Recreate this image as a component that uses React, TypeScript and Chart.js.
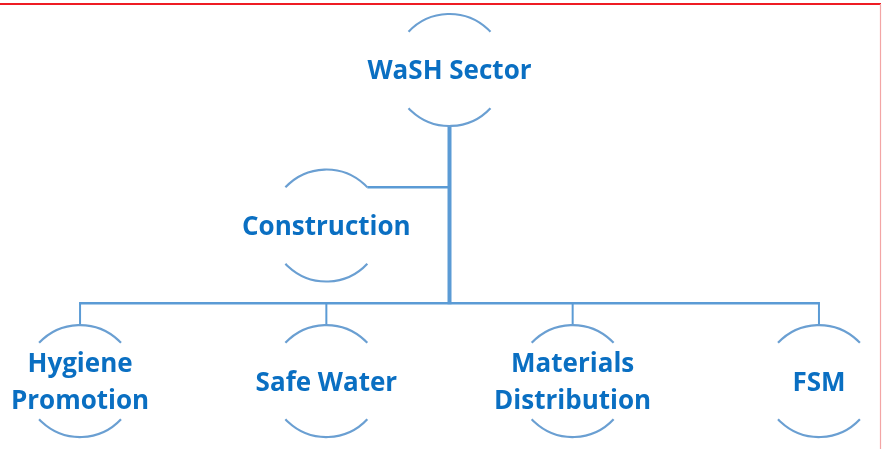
import React, { useEffect, useRef } from "react";
import { Chart, registerables } from "chart.js";

Chart.register(...registerables);

// ---- data ----
const nodeNames: string[][] = [
  ["WaSH Sector"],
  ["Construction"],
  ["Hygiene", "Promotion"],
  ["Safe Water"],
  ["Materials", "Distribution"],
  ["FSM"],
];
const nodeCol: number[] = [1.5, 1, 0, 1, 2, 3];
const nodeRow: number[] = [0, 1, 2, 2, 2, 2];
const nodeParent: number[] = [-1, 0, 0, 0, 0, 0];
const busRow = 1.5;

const TEXT_COLOR = "#0a6fc2";
const LINE_COLOR = "#5b9bd5";
const ARC_COLOR = "#6a9fd2";
const RADIUS = 56;
const HALF_SPAN = (47 * Math.PI) / 180;
const FONT = "bold 26px 'Open Sans'";
const LINE_H = 37;

const orgPlugin = {
  id: "orgChart",
  beforeDraw(chart: any) {
    const ctx = chart.ctx;
    ctx.save();
    ctx.fillStyle = "#ffffff";
    ctx.fillRect(0, 0, chart.width, chart.height);
    // frame lines
    ctx.strokeStyle = "#ee1c24";
    ctx.lineWidth = 2;
    ctx.beginPath();
    ctx.moveTo(0, 4);
    ctx.lineTo(881, 4);
    ctx.stroke();
    ctx.strokeStyle = "#f3a5a5";
    ctx.lineWidth = 1.2;
    ctx.beginPath();
    ctx.moveTo(880.5, 4);
    ctx.lineTo(880.5, chart.height);
    ctx.stroke();
    ctx.restore();
  },
  afterDatasetsDraw(chart: any) {
    const ctx = chart.ctx;
    const xs = chart.scales.x;
    const ys = chart.scales.y;
    const px = nodeCol.map((c) => xs.getPixelForValue(c));
    const py = nodeRow.map((r) => ys.getPixelForValue(r));
    const busY = ys.getPixelForValue(busRow);
    ctx.save();
    ctx.lineCap = "butt";
    const bottomKids: number[] = [];
    nodeParent.forEach((p, i) => {
      if (p < 0) return;
      if (nodeRow[i] > busRow) bottomKids.push(i);
    });
    const root = 0;
    // trunk
    ctx.strokeStyle = LINE_COLOR;
    ctx.lineWidth = 4;
    ctx.beginPath();
    ctx.moveTo(px[root], py[root] + RADIUS);
    ctx.lineTo(px[root], busY + 1);
    ctx.stroke();
    // side branches (nodes above bus)
    ctx.lineWidth = 2.5;
    nodeParent.forEach((p, i) => {
      if (p < 0 || nodeRow[i] > busRow) return;
      const ex = px[i] + RADIUS * Math.sin(HALF_SPAN);
      const ey = py[i] - RADIUS * Math.cos(HALF_SPAN);
      ctx.beginPath();
      ctx.moveTo(ex, ey);
      ctx.lineTo(px[p], ey);
      ctx.stroke();
    });
    // bus
    const bx = bottomKids.map((i) => px[i]);
    ctx.lineWidth = 2.5;
    ctx.beginPath();
    ctx.moveTo(Math.min(...bx) - 1, busY);
    ctx.lineTo(Math.max(...bx) + 1, busY);
    ctx.stroke();
    // drops
    ctx.lineWidth = 2;
    bottomKids.forEach((i) => {
      ctx.beginPath();
      ctx.moveTo(px[i], busY);
      ctx.lineTo(px[i], py[i] - RADIUS);
      ctx.stroke();
    });
    // arcs
    ctx.strokeStyle = ARC_COLOR;
    ctx.lineWidth = 2.2;
    nodeNames.forEach((_, i) => {
      ctx.beginPath();
      ctx.arc(px[i], py[i], RADIUS, -Math.PI / 2 - HALF_SPAN, -Math.PI / 2 + HALF_SPAN);
      ctx.stroke();
      ctx.beginPath();
      ctx.arc(px[i], py[i], RADIUS, Math.PI / 2 - HALF_SPAN, Math.PI / 2 + HALF_SPAN);
      ctx.stroke();
    });
    // labels
    ctx.font = FONT;
    ctx.fillStyle = TEXT_COLOR;
    ctx.textAlign = "center";
    ctx.textBaseline = "alphabetic";
    const capH = ctx.measureText("H").actualBoundingBoxAscent;
    nodeNames.forEach((lines, i) => {
      const n = lines.length;
      lines.forEach((t, k) => {
        const cy = py[i] + (k - (n - 1) / 2) * LINE_H + capH / 2;
        ctx.fillText(t, px[i], cy);
      });
    });
    ctx.restore();
  },
};

export default function App() {
  const ref = useRef<HTMLCanvasElement | null>(null);
  useEffect(() => {
    if (!ref.current) return;
    const chart = new Chart(ref.current, {
      type: "scatter",
      data: {
        datasets: [
          {
            label: "nodes",
            data: nodeCol.map((c, i) => ({ x: c, y: nodeRow[i] })),
            pointRadius: 0,
            showLine: false,
          },
        ],
      },
      options: {
        responsive: false,
        maintainAspectRatio: false,
        animation: false,
        events: [],
        layout: { padding: 0 },
        plugins: { legend: { display: false }, tooltip: { enabled: false } },
        scales: {
          x: { type: "linear", display: false, min: -0.325, max: 3.26 },
          y: { type: "linear", display: false, reverse: true, min: -0.45, max: 2.437 },
        },
      },
      plugins: [orgPlugin],
    });
    return () => chart.destroy();
  }, []);
  return (
    <div style={{ position: "absolute", left: 0, top: 0, width: 883, height: 449 }}>
      <canvas ref={ref} width={883} height={449} />
    </div>
  );
}
